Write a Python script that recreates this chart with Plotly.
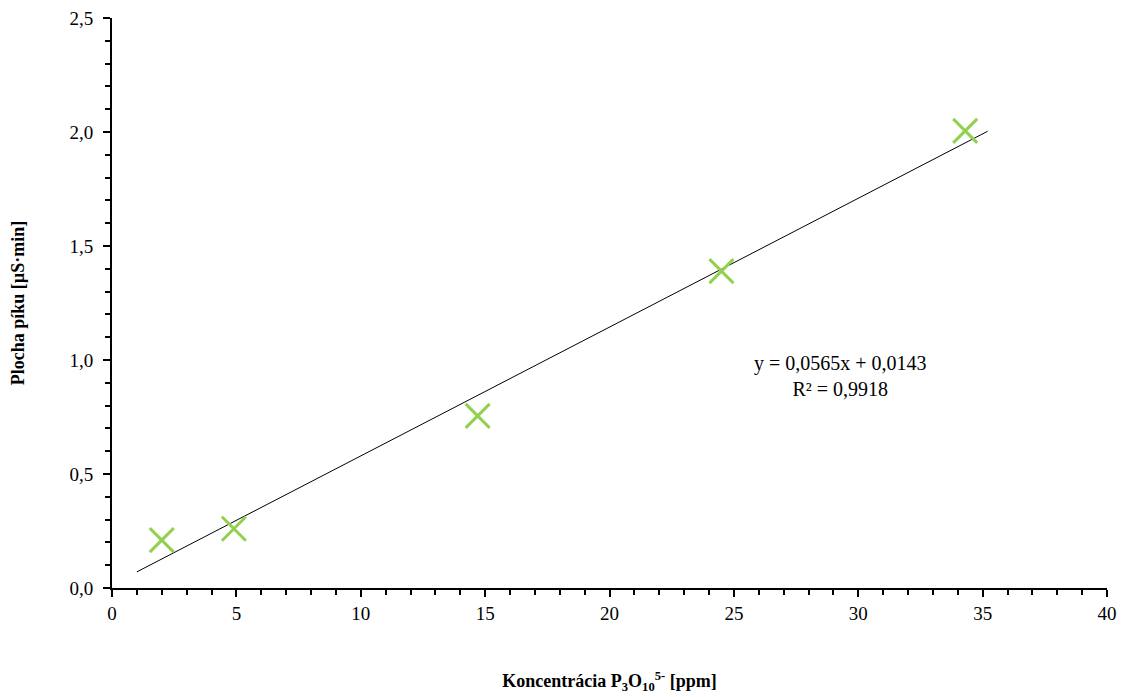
import plotly.graph_objects as go

conc = [2.0, 4.9, 14.7, 24.5, 34.3]
area = [0.21, 0.26, 0.755, 1.39, 2.005]
slope = 0.0565
intercept = 0.0143
fit_x = [1.0, 35.2]
fit_y = [slope * v + intercept for v in fit_x]

FONT = "Liberation Serif"
GREEN = "#92D050"

fig = go.Figure()
fig.add_trace(go.Scatter(x=fit_x, y=fit_y, mode="lines",
                         line=dict(color="black", width=1), showlegend=False, hoverinfo="skip"))
fig.add_trace(go.Scatter(x=conc, y=area, mode="markers",
                         marker=dict(symbol="x-thin-open", size=24, color=GREEN,
                                     line=dict(color=GREEN, width=3)),
                         showlegend=False))

fig.add_annotation(x=29.3, y=0.93, xref="x", yref="y",
                   text="y = 0,0565x + 0,0143<br>R² = 0,9918", showarrow=False,
                   align="center", font=dict(family=FONT, size=20, color="black"))

fig.update_layout(
    width=1128, height=697,
    margin=dict(l=104, r=29, t=10, b=117),
    paper_bgcolor="white", plot_bgcolor="white",
    separators=", ",
    font=dict(family=FONT, size=19, color="black"),
    xaxis=dict(range=[0, 40], dtick=5, tick0=0, showgrid=False, zeroline=False,
               showline=True, linecolor="black", linewidth=2, automargin=False,
               ticks="outside", ticklen=7, tickwidth=2, tickcolor="black",
               minor=dict(ticks="outside", dtick=1, ticklen=5, tickwidth=2, tickcolor="black"),
               tickfont=dict(family=FONT, size=19), ticklabeloverflow="allow",
               title=dict(text="<b>Koncentrácia P<sub>3</sub>O<sub>10</sub><sup>5-</sup> [ppm]</b>",
                          font=dict(family=FONT, size=18), standoff=52)),
    yaxis=dict(range=[0, 2.5], dtick=0.5, tick0=0, tickformat=".1f", showgrid=False, zeroline=False,
               showline=True, linecolor="black", linewidth=2, automargin=False,
               ticks="outside", ticklen=7, tickwidth=2, tickcolor="black",
               minor=dict(ticks="outside", dtick=0.1, tick0=0, ticklen=5, tickwidth=2, tickcolor="black"),
               tickfont=dict(family=FONT, size=19), ticklabelstandoff=6, ticklabeloverflow="allow",
               title=dict(text="<b>Plocha píku [µS·min]</b>", font=dict(family=FONT, size=18),
                          standoff=40)),
)

fig.write_html("out.html")
